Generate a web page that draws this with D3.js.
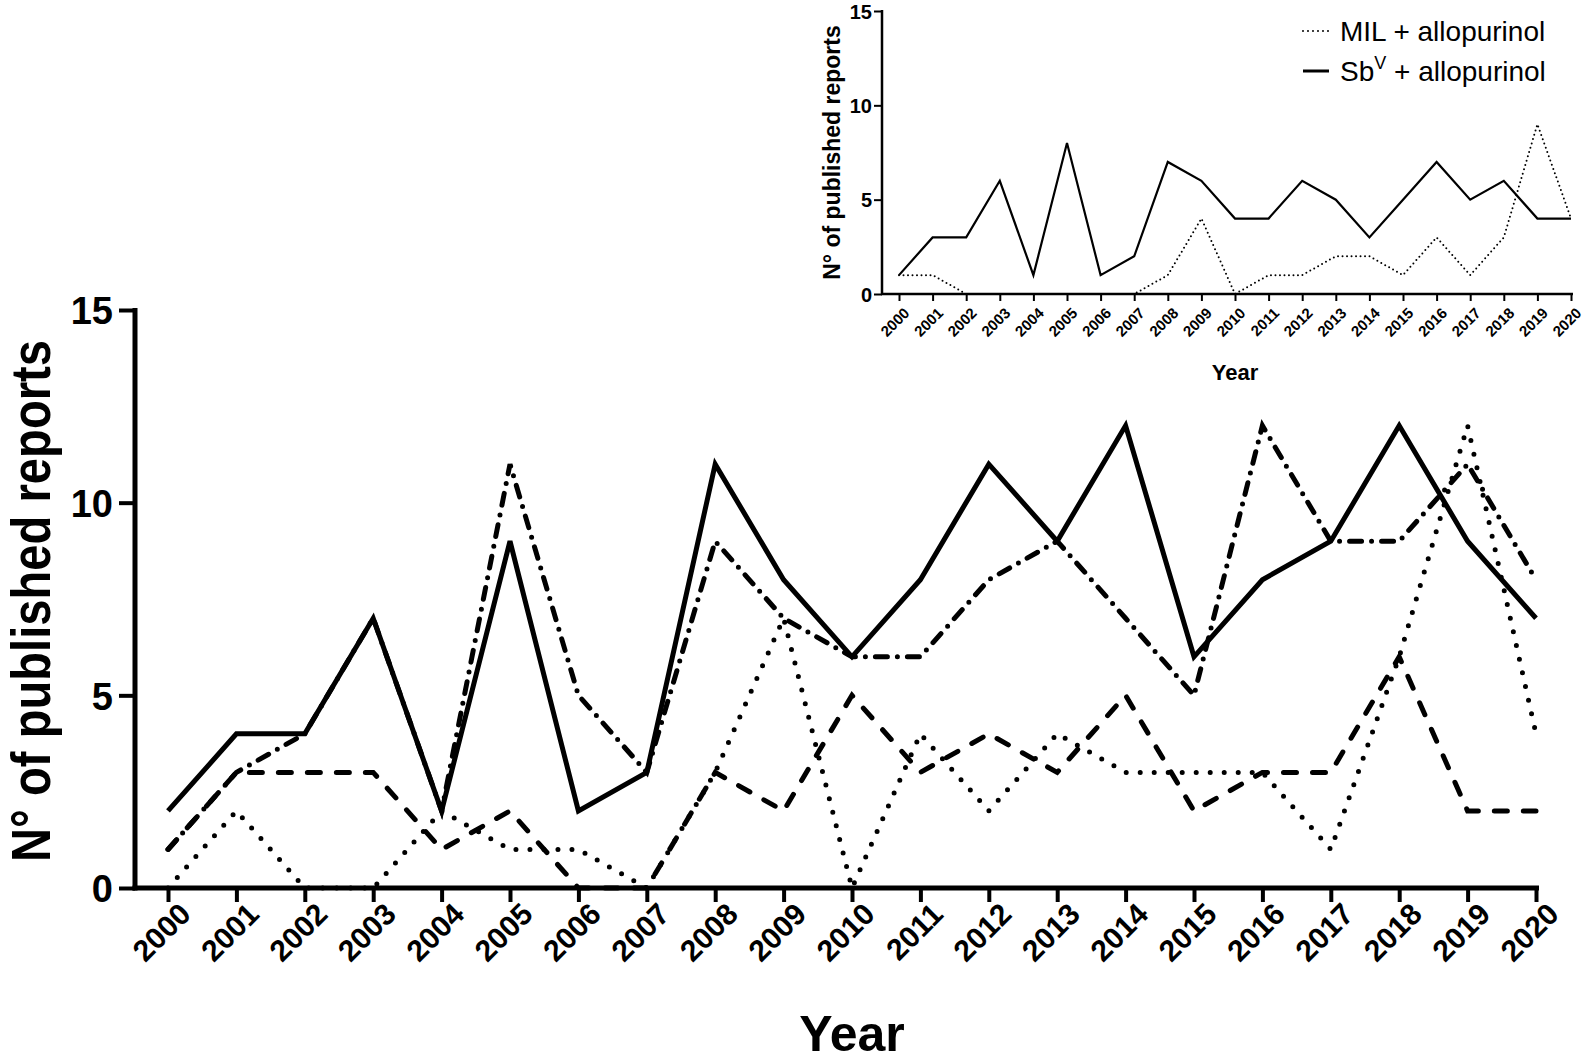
<!DOCTYPE html>
<html lang="en">
<head>
<meta charset="UTF-8">
<title>Published reports per year</title>
<style>
  body { margin: 0; background: #fff; }
  svg { display: block; font-family: "Liberation Sans", Arial, sans-serif; }
</style>
</head>
<body>
<svg width="1593" height="1064"></svg>
<script src="https://d3js.org/d3.v7.min.js"></script>
<script>
const svg = d3.select("svg");

// data
const years = [2000, 2001, 2002, 2003, 2004, 2005, 2006, 2007, 2008, 2009, 2010,
               2011, 2012, 2013, 2014, 2015, 2016, 2017, 2018, 2019, 2020];
const yTicks = [0, 5, 10, 15];

// main panel (four series, no legend in the figure)
const solidMain   = [2, 4, 4, 7, 2, 9, 2, 3, 11, 8, 6, 8, 11, 9, 12, 6, 8, 9, 12, 9, 7];
const dottedMain  = [0, 2, 0, 0, 2, 1, 1, 0, 3, 7, 0, 4, 2, 4, 3, 3, 3, 1, 6, 12, 4];
const dashedMain  = [1, 3, 3, 3, 1, 2, 0, 0, 3, 2, 5, 3, 4, 3, 5, 2, 3, 3, 6, 2, 2];
const dashDotMain = [1, 3, 4, 7, 2, 11, 5, 3, 9, 7, 6, 6, 8, 9, 7, 5, 12, 9, 9, 11, 8];

// inset
const milInset = [1, 1, 0, 0, 0, 0, 0, 0, 1, 4, 0, 1, 1, 2, 2, 1, 3, 1, 3, 9, 4];
const sbInset  = [1, 3, 3, 6, 1, 8, 1, 2, 7, 6, 4, 4, 6, 5, 3, 5, 7, 5, 6, 4, 4];

const yLabel = "N\u00B0 of published reports";

// ---------- main chart ----------
const x = d3.scaleLinear().domain([2000, 2020]).range([168, 1536]);
const y = d3.scaleLinear().domain([0, 15]).range([888, 310]);
const axisX0 = 135;

const line = d3.line().x((d, i) => x(years[i])).y(d => y(d));

const mainSeries = [
    { values: dottedMain,  dash: "0,14" },
    { values: dashedMain,  dash: "13,16" },
    { values: dashDotMain, dash: "12,10,0,10" },
    { values: solidMain,   dash: null }
];

const main = svg.append("g");

mainSeries.forEach(s => {
    main.append("path")
        .datum(s.values)
        .attr("d", line)
        .attr("fill", "none")
        .attr("stroke", "#000")
        .attr("stroke-width", 5)
        .attr("stroke-linecap", s.dash ? "round" : "butt")
        .attr("stroke-linejoin", "miter")
        .attr("stroke-dasharray", s.dash);
});

// x axis
const gx = main.append("g")
    .attr("transform", `translate(0,${y(0)})`)
    .call(d3.axisBottom(x).tickValues(years).tickFormat(d3.format("d")).tickSize(14).tickSizeOuter(0));
gx.select(".domain").remove();
gx.selectAll(".tick line").attr("stroke-width", 4);
gx.selectAll(".tick text")
    .attr("x", 0).attr("y", 0).attr("dy", 0)
    .attr("text-anchor", "end")
    .attr("transform", "translate(24,28) rotate(-45)")
    .attr("font-size", 30)
    .attr("font-weight", "bold")
    .attr("font-family", "Liberation Sans, Arial, sans-serif");
main.append("line")
    .attr("x1", axisX0 - 2.5).attr("x2", x(2020) + 3)
    .attr("y1", y(0)).attr("y2", y(0))
    .attr("stroke", "#000").attr("stroke-width", 5);

// y axis
const gy = main.append("g")
    .attr("transform", `translate(${axisX0},0)`)
    .call(d3.axisLeft(y).tickValues(yTicks).tickSize(16).tickSizeOuter(0));
gy.select(".domain").remove();
gy.selectAll(".tick line").attr("stroke-width", 4);
gy.selectAll(".tick text")
    .attr("x", -22)
    .attr("dy", "0.36em")
    .attr("font-size", 38)
    .attr("font-weight", "bold")
    .attr("font-family", "Liberation Sans, Arial, sans-serif");
main.append("line")
    .attr("x1", axisX0).attr("x2", axisX0)
    .attr("y1", y(15) - 2).attr("y2", y(0) + 2.5)
    .attr("stroke", "#000").attr("stroke-width", 5);

main.append("text")
    .attr("transform", `translate(50,${(y(0) + y(15)) / 2 + 2}) rotate(-90)`)
    .attr("text-anchor", "middle")
    .attr("font-size", 56)
    .attr("font-weight", "bold")
    .attr("textLength", 522)
    .attr("lengthAdjust", "spacingAndGlyphs")
    .text(yLabel);

main.append("text")
    .attr("x", 852).attr("y", 1051)
    .attr("text-anchor", "middle")
    .attr("font-size", 50)
    .attr("font-weight", "bold")
    .text("Year");

// ---------- inset ----------
const xi = d3.scaleLinear().domain([2000, 2020]).range([899, 1571]);
const yi = d3.scaleLinear().domain([0, 15]).range([294, 11]);
const insetX0 = 882;

const lineI = d3.line().x((d, i) => xi(years[i])).y(d => yi(d));
const inset = svg.append("g");

inset.append("path")
    .datum(milInset)
    .attr("d", lineI)
    .attr("fill", "none")
    .attr("stroke", "#000")
    .attr("stroke-width", 2)
    .attr("stroke-linecap", "round")
    .attr("stroke-dasharray", "0,4.5");
inset.append("path")
    .datum(sbInset)
    .attr("d", lineI)
    .attr("fill", "none")
    .attr("stroke", "#000")
    .attr("stroke-width", 2.2);

const gxi = inset.append("g")
    .attr("transform", `translate(0,${yi(0)})`)
    .call(d3.axisBottom(xi).tickValues(years).tickFormat(d3.format("d")).tickSize(7).tickSizeOuter(0));
gxi.select(".domain").remove();
gxi.selectAll(".tick line").attr("stroke-width", 2);
gxi.selectAll(".tick text")
    .attr("x", 0).attr("y", 0).attr("dy", 0)
    .attr("text-anchor", "end")
    .attr("transform", "translate(11,20) rotate(-45)")
    .attr("font-size", 15)
    .attr("font-weight", "bold")
    .attr("font-family", "Liberation Sans, Arial, sans-serif");
inset.append("line")
    .attr("x1", insetX0 - 1).attr("x2", xi(2020) + 2)
    .attr("y1", yi(0)).attr("y2", yi(0))
    .attr("stroke", "#000").attr("stroke-width", 2.5);

const gyi = inset.append("g")
    .attr("transform", `translate(${insetX0},0)`)
    .call(d3.axisLeft(yi).tickValues(yTicks).tickSize(8).tickSizeOuter(0));
gyi.select(".domain").remove();
gyi.selectAll(".tick line").attr("stroke-width", 2);
gyi.selectAll(".tick text")
    .attr("x", -10)
    .attr("dy", "0.36em")
    .attr("font-size", 20)
    .attr("font-weight", "bold")
    .attr("font-family", "Liberation Sans, Arial, sans-serif");
inset.append("line")
    .attr("x1", insetX0).attr("x2", insetX0)
    .attr("y1", yi(15) - 1).attr("y2", yi(0) + 1)
    .attr("stroke", "#000").attr("stroke-width", 2.5);

inset.append("text")
    .attr("transform", `translate(840,${(yi(0) + yi(15)) / 2}) rotate(-90)`)
    .attr("text-anchor", "middle")
    .attr("font-size", 23)
    .attr("font-weight", "bold")
    .text(yLabel);

inset.append("text")
    .attr("x", 1235).attr("y", 380)
    .attr("text-anchor", "middle")
    .attr("font-size", 22)
    .attr("font-weight", "bold")
    .text("Year");

// legend
const legend = inset.append("g");
legend.append("line")
    .attr("x1", 1303).attr("x2", 1329).attr("y1", 31).attr("y2", 31)
    .attr("stroke", "#000").attr("stroke-width", 2)
    .attr("stroke-linecap", "round").attr("stroke-dasharray", "0,5");
legend.append("text")
    .attr("x", 1340).attr("y", 41)
    .attr("font-size", 28)
    .text("MIL + allopurinol");
legend.append("line")
    .attr("x1", 1303).attr("x2", 1329).attr("y1", 71).attr("y2", 71)
    .attr("stroke", "#000").attr("stroke-width", 3);
const sbText = legend.append("text")
    .attr("x", 1340).attr("y", 81)
    .attr("font-size", 28);
sbText.append("tspan").text("Sb");
sbText.append("tspan").attr("dy", -12).attr("font-size", 18).text("V");
sbText.append("tspan").attr("dy", 12).text(" + allopurinol");
</script>
</body>
</html>
